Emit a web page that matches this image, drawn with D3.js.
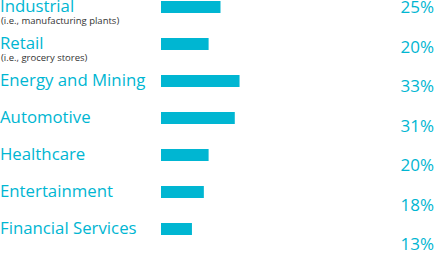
<!DOCTYPE html>
<html>
<head>
<meta charset="utf-8">
<script src="https://cdn.jsdelivr.net/npm/d3@7"></script>
<style>
  html, body { margin: 0; padding: 0; background: #fff; }
  svg { display: block; font-family: "Open Sans", sans-serif; }
</style>
</head>
<body>
<script>
// sectors, their sub notes and share values (%)
var categories = ["Industrial", "Retail", "Energy and Mining", "Automotive",
                  "Healthcare", "Entertainment", "Financial Services"];
var notes = ["(i.e., manufacturing plants)", "(i.e., grocery stores)", "", "", "", "", ""];
var values = [25, 20, 33, 31, 20, 18, 13];

var width = 436, height = 254;
var color = "#00b6d2";

var svg = d3.select("body").append("svg")
  .attr("width", width)
  .attr("height", height);

// bar rows
var y = d3.scaleBand()
  .domain(categories)
  .range([1, 235])
  .paddingInner(0.676)
  .paddingOuter(0)
  .align(0);

var x = d3.scaleLinear()
  .domain([0, 100])
  .range([161, 399]);

// value labels drift down a bit more than the bars
var yLabel = d3.scalePoint()
  .domain(categories)
  .range([13, 250]);

var rows = svg.selectAll("g.row")
  .data(categories)
  .enter().append("g")
  .attr("class", "row");

rows.append("rect")
  .attr("x", x(0))
  .attr("y", function(d) { return y(d); })
  .attr("width", function(d, i) { return x(values[i]) - x(0); })
  .attr("height", y.bandwidth())
  .attr("fill", color);

rows.append("text")
  .attr("x", 0)
  .attr("y", function(d) { return y(d) + y.bandwidth() - 1; })
  .attr("font-size", 16.8)
  .attr("fill", color)
  .text(function(d) { return d; });

rows.append("text")
  .attr("x", 1)
  .attr("y", function(d) { return y(d) + y.bandwidth() + 11; })
  .attr("font-size", 9.5)
  .attr("fill", "#333")
  .text(function(d, i) { return notes[i]; });

rows.append("text")
  .attr("x", 434)
  .attr("y", function(d) { return yLabel(d); })
  .attr("text-anchor", "end")
  .attr("font-size", 17)
  .attr("fill", color)
  .text(function(d, i) { return values[i] + "%"; });
</script>
</body>
</html>
